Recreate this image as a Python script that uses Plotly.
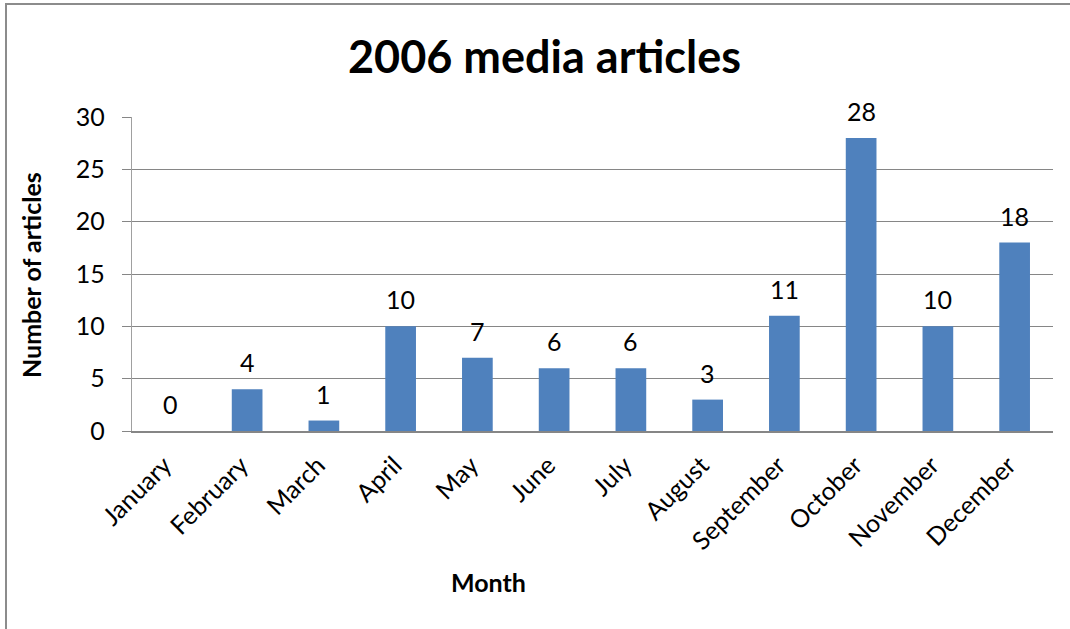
import plotly.graph_objects as go

months = ["January", "February", "March", "April", "May", "June", "July",
          "August", "September", "October", "November", "December"]
articles = [0, 4, 1, 10, 7, 6, 6, 3, 11, 28, 10, 18]
y_ticks = [0, 5, 10, 15, 20, 25, 30]

FONT = "Lato"
GRID = "#868686"
FS = 25

fig = go.Figure(go.Bar(
    x=months, y=articles,
    marker=dict(color="#4F81BD", line=dict(width=0)),
))

# Value labels above each bar
for m, v in zip(months, articles):
    fig.add_annotation(x=m, y=v, text=str(v), showarrow=False,
                       yanchor="middle", yshift=27,
                       font=dict(family=FONT, size=FS, color="#000000"))

fig.update_layout(
    width=1070, height=629,
    margin=dict(l=132, r=17, t=117, b=198),
    paper_bgcolor="white", plot_bgcolor="white",
    bargap=0.6, showlegend=False,
    font=dict(family=FONT, size=FS, color="#000000"),
)

fig.update_yaxes(
    range=[0, 30], tickvals=y_ticks, ticktext=[str(v) for v in y_ticks],
    showgrid=True, gridcolor=GRID, gridwidth=1.3,
    showline=True, linecolor="#A0A0A0", linewidth=1.3,
    ticks="outside", ticklen=9, tickcolor=GRID,
    tickfont=dict(family=FONT, size=FS), ticklabelstandoff=12,
    zeroline=False,
)
fig.update_xaxes(
    showline=True, linecolor=GRID, linewidth=1.5,
    tickangle=-45, tickfont=dict(family=FONT, size=FS),
    showgrid=False, ticks="", ticklabelstandoff=8, ticklabelshift=-6,
)

# Chart border, title and axis titles
W, H = 921, 314
fig.add_shape(type="rect", xref="paper", yref="paper",
              x0=-126 / W, x1=1200 / W, y0=-1.0, y1=1 + 113 / H,
              line=dict(color="#8C8C8C", width=2), layer="below")
fig.add_annotation(text="<b>2006 media articles</b>", xref="paper", yref="paper",
                   x=(544 - 132) / W, y=1 + (117 - 56) / H, showarrow=False,
                   font=dict(family=FONT, size=45), xanchor="center", yanchor="middle")
fig.add_annotation(text="<b>Month</b>", xref="paper", yref="paper",
                   x=(488 - 132) / W, y=-(582 - 431) / H, showarrow=False,
                   font=dict(family=FONT, size=FS), xanchor="center", yanchor="middle")
fig.add_annotation(text="<b>Number of articles</b>", xref="paper", yref="paper",
                   x=-(132 - 31) / W, y=(431 - 275) / H, showarrow=False,
                   textangle=-90,
                   font=dict(family=FONT, size=FS), xanchor="center", yanchor="middle")

fig.write_html("out.html")
